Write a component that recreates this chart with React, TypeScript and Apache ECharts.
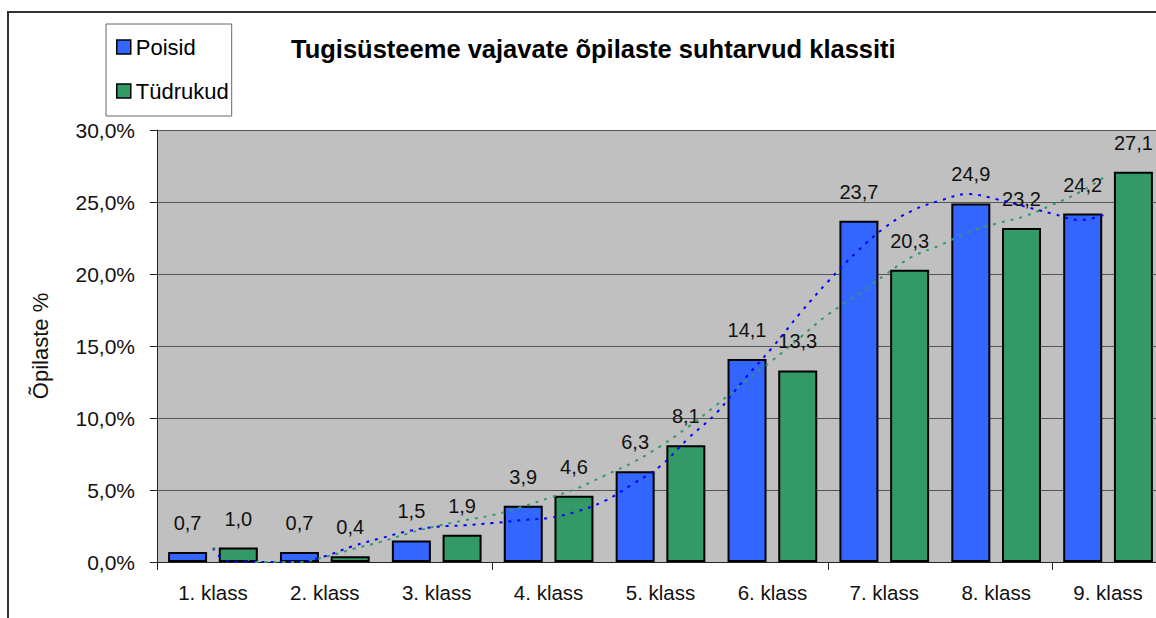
import React, { useEffect, useRef } from "react";
import * as echarts from "echarts";

const categories = ["1. klass", "2. klass", "3. klass", "4. klass", "5. klass", "6. klass", "7. klass", "8. klass", "9. klass"];
const poisid = [0.7, 0.7, 1.5, 3.9, 6.3, 14.1, 23.7, 24.9, 24.2];
const tudrukud = [1.0, 0.4, 1.9, 4.6, 8.1, 13.3, 20.3, 23.2, 27.1];
const yTicks = [0, 5, 10, 15, 20, 25, 30];

// trendline readings: [category position, value]
const poisidTrend: [number, number][] = [
  [1.0, 0.97], [1.1, 0.15], [1.25, 0], [1.5, 0], [1.75, 0], [2.0, 0.4], [2.25, 1.1], [2.5, 1.65],
  [2.75, 2.15], [3.0, 2.45], [3.25, 2.55], [3.5, 2.7], [3.75, 2.9], [4.0, 3.06], [4.25, 3.5],
  [4.5, 4.24], [4.75, 5.4], [5.0, 6.67], [5.25, 8.6], [5.5, 10.35], [5.75, 12.7], [6.0, 14.9],
  [6.25, 17.3], [6.5, 19.5], [6.75, 21.5], [7.0, 23.2], [7.25, 24.4], [7.5, 25.1], [7.75, 25.55],
  [8.0, 25.2], [8.25, 24.7], [8.5, 24.2], [8.75, 23.75], [9.0, 24.2],
];
const tudrukudTrend: [number, number][] = [
  [1.0, 1.0], [1.1, 0.6], [1.25, 0.35], [1.4, 0], [1.5, 0], [1.75, 0], [2.0, 0.35], [2.25, 0.9],
  [2.5, 1.4], [2.75, 2.0], [3.0, 2.5], [3.25, 2.9], [3.5, 3.26], [3.75, 3.8], [4.0, 4.44],
  [4.25, 5.1], [4.5, 6.0], [4.75, 6.9], [5.0, 8.05], [5.25, 9.4], [5.5, 10.9], [5.75, 12.5],
  [6.0, 14.0], [6.25, 15.6], [6.5, 17.2], [6.75, 18.5], [7.0, 19.9], [7.25, 21.2], [7.5, 22.0],
  [7.75, 22.9], [8.0, 23.5], [8.25, 24.0], [8.5, 24.8], [8.75, 25.7], [9.0, 26.9],
];

const FONT = "'Liberation Sans', Arial, Helvetica, sans-serif";
const fmt = (v: number) => v.toFixed(1).replace(".", ",");

export default function App() {
  const ref = useRef<HTMLDivElement>(null);
  useEffect(() => {
    if (!ref.current) return;
    const chart = echarts.init(ref.current, undefined, { renderer: "svg" });
    const labelStyle = {
      show: true,
      position: "top" as const,
      distance: 19,
      fontFamily: FONT,
      fontSize: 20,
      color: "#111",
      formatter: (p: any) => fmt(p.value),
    };
    chart.setOption({
      animation: false,
      backgroundColor: "#ffffff",
      textStyle: { fontFamily: FONT },
      title: {
        text: "Tugisüsteeme vajavate õpilaste suhtarvud klassiti",
        left: 286,
        top: 31,
        textStyle: { fontFamily: FONT, fontSize: 25.5, fontWeight: "bold", color: "#000" },
      },
      legend: {
        orient: "vertical",
        left: 106,
        top: 24,
        padding: [12, 3, 14, 10],
        itemGap: 22,
        itemWidth: 14,
        itemHeight: 14,
        icon: "rect",
        backgroundColor: "#ffffff",
        borderColor: "#666666",
        borderWidth: 1,
        itemStyle: { borderColor: "#000", borderWidth: 1.5 },
        textStyle: { fontFamily: FONT, fontSize: 22, color: "#000" },
        data: ["Poisid", "Tüdrukud"],
      },
      graphic: [
        {
          type: "rect",
          shape: { x: 8, y: 12, width: 1400, height: 800 },
          style: { fill: "none", stroke: "#333333", lineWidth: 2 },
          z: -10,
          silent: true,
        },
      ],
      grid: {
        left: 157,
        top: 130,
        width: 1007,
        height: 432,
        show: true,
        backgroundColor: "#C0C0C0",
        borderWidth: 0,
      },
      xAxis: [
        {
          type: "category",
          data: categories,
          boundaryGap: true,
          axisLine: { lineStyle: { color: "#222", width: 1 } },
          axisTick: { show: true, interval: 2, length: 8, lineStyle: { color: "#222" } },
          axisLabel: { fontFamily: FONT, fontSize: 20.5, color: "#111", margin: 20, interval: 0 },
        },
        {
          type: "value",
          min: 0.5,
          max: 9.5,
          show: false,
        },
      ],
      yAxis: {
        type: "value",
        min: 0,
        max: 30,
        interval: 5,
        name: "Õpilaste %",
        nameLocation: "middle",
        nameGap: 106,
        nameRotate: 90,
        nameTextStyle: { fontFamily: FONT, fontSize: 22, color: "#111" },
        axisLine: { show: true, lineStyle: { color: "#222", width: 1 } },
        axisTick: { show: true, length: 7, lineStyle: { color: "#222" } },
        axisLabel: {
          fontFamily: FONT,
          fontSize: 21,
          color: "#111",
          margin: 22,
          formatter: (v: number) => (yTicks.includes(v) ? fmt(v) + "%" : ""),
        },
        splitLine: { show: true, lineStyle: { color: "#555", width: 1 } },
      },
      series: [
        {
          name: "Poisid",
          type: "bar",
          data: poisid,
          barWidth: 39,
          barGap: "30%",
          itemStyle: { color: "#3366FF", borderColor: "#000", borderWidth: 2 },
          label: labelStyle,
          z: 2,
        },
        {
          name: "Tüdrukud",
          type: "bar",
          data: tudrukud,
          barWidth: 39,
          barGap: "30%",
          itemStyle: { color: "#339966", borderColor: "#000", borderWidth: 2 },
          label: labelStyle,
          z: 2,
        },
        {
          name: "Poisid trend",
          type: "line",
          xAxisIndex: 1,
          data: poisidTrend,
          smooth: 0.4,
          showSymbol: false,
          symbol: "none",
          clip: true,
          lineStyle: { color: "#0000FF", width: 2, type: [3, 6] },
          z: 5,
          silent: true,
        },
        {
          name: "Tüdrukud trend",
          type: "line",
          xAxisIndex: 1,
          data: tudrukudTrend,
          smooth: 0.4,
          showSymbol: false,
          symbol: "none",
          clip: true,
          lineStyle: { color: "#339966", width: 2, type: [3, 6] },
          z: 5,
          silent: true,
        },
      ],
    });
    return () => chart.dispose();
  }, []);
  return (
    <div style={{ position: "fixed", left: 0, top: 0, width: 1156, height: 618, overflow: "hidden", background: "#fff" }}>
      <div ref={ref} style={{ width: 1180, height: 618 }} />
    </div>
  );
}
